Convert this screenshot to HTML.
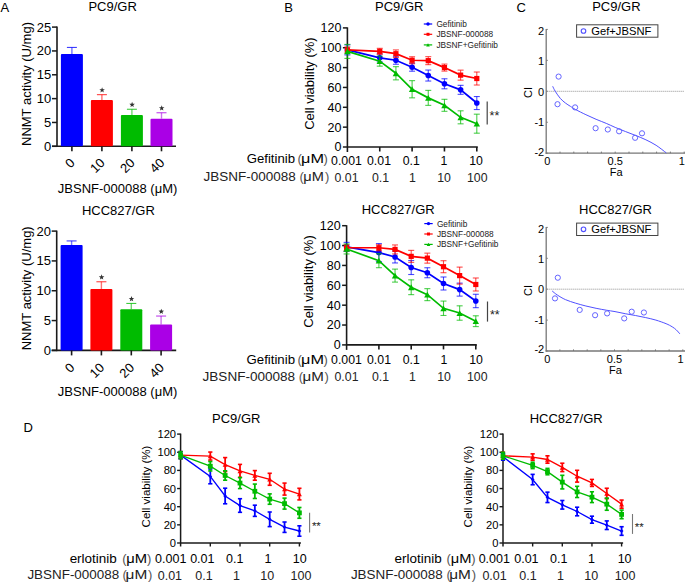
<!DOCTYPE html>
<html><head><meta charset="utf-8"><style>
html,body{margin:0;padding:0;background:#fff;width:685px;height:583px;overflow:hidden}
svg{display:block;font-family:"Liberation Sans", sans-serif}
</style></head><body>
<svg width="685" height="583" viewBox="0 0 685 583">
<text x="0.50" y="11.70" font-size="13" text-anchor="start" fill="#000" >A</text>
<text x="112.60" y="11.00" font-size="13" text-anchor="middle" fill="#000" >PC9/GR</text>
<line x1="57.00" y1="26.60" x2="57.00" y2="147.05" stroke="#1a1a1a" stroke-width="1.6" />
<line x1="52.00" y1="146.30" x2="57.00" y2="146.30" stroke="#1a1a1a" stroke-width="1.5" />
<text x="51.20" y="150.80" font-size="13" text-anchor="end" fill="#000" >0</text>
<line x1="52.00" y1="122.46" x2="57.00" y2="122.46" stroke="#1a1a1a" stroke-width="1.5" />
<text x="51.20" y="126.96" font-size="13" text-anchor="end" fill="#000" >5</text>
<line x1="52.00" y1="98.62" x2="57.00" y2="98.62" stroke="#1a1a1a" stroke-width="1.5" />
<text x="51.20" y="103.12" font-size="13" text-anchor="end" fill="#000" >10</text>
<line x1="52.00" y1="74.78" x2="57.00" y2="74.78" stroke="#1a1a1a" stroke-width="1.5" />
<text x="51.20" y="79.28" font-size="13" text-anchor="end" fill="#000" >15</text>
<line x1="52.00" y1="50.94" x2="57.00" y2="50.94" stroke="#1a1a1a" stroke-width="1.5" />
<text x="51.20" y="55.44" font-size="13" text-anchor="end" fill="#000" >20</text>
<line x1="52.00" y1="27.10" x2="57.00" y2="27.10" stroke="#1a1a1a" stroke-width="1.5" />
<text x="51.20" y="31.60" font-size="13" text-anchor="end" fill="#000" >25</text>
<line x1="52.00" y1="146.30" x2="176.00" y2="146.30" stroke="#1a1a1a" stroke-width="1.6" />
<rect x="60.90" y="54.04" width="22.00" height="92.26" fill="#0000ff" rx="1"/>
<line x1="71.90" y1="47.44" x2="71.90" y2="54.04" stroke="#0000ff" stroke-width="1.4" opacity="0.55"/>
<line x1="66.90" y1="47.44" x2="76.90" y2="47.44" stroke="#0000ff" stroke-width="1.1" opacity="0.75"/>
<line x1="71.90" y1="146.30" x2="71.90" y2="151.30" stroke="#1a1a1a" stroke-width="1.6" />
<text x="0" y="0" font-size="13" text-anchor="end" fill="#000" transform="translate(75.70,163.60) rotate(-45)">0</text>
<rect x="90.90" y="100.05" width="22.00" height="46.25" fill="#ff0000" rx="1"/>
<line x1="101.90" y1="94.65" x2="101.90" y2="100.05" stroke="#ff0000" stroke-width="1.4" opacity="0.55"/>
<line x1="96.90" y1="94.65" x2="106.90" y2="94.65" stroke="#ff0000" stroke-width="1.1" opacity="0.75"/>
<line x1="101.90" y1="146.30" x2="101.90" y2="151.30" stroke="#1a1a1a" stroke-width="1.6" />
<polygon points="102.10,87.25 102.82,89.17 104.86,89.25 103.26,90.53 103.80,92.50 102.10,91.37 100.40,92.50 100.94,90.53 99.34,89.25 101.38,89.17" fill="#333"/>
<text x="0" y="0" font-size="13" text-anchor="end" fill="#000" transform="translate(105.70,163.60) rotate(-45)">10</text>
<rect x="120.90" y="115.07" width="22.00" height="31.23" fill="#00bb00" rx="1"/>
<line x1="131.90" y1="109.27" x2="131.90" y2="115.07" stroke="#00bb00" stroke-width="1.4" opacity="0.55"/>
<line x1="126.90" y1="109.27" x2="136.90" y2="109.27" stroke="#00bb00" stroke-width="1.1" opacity="0.75"/>
<line x1="131.90" y1="146.30" x2="131.90" y2="151.30" stroke="#1a1a1a" stroke-width="1.6" />
<polygon points="132.10,101.87 132.82,103.78 134.86,103.87 133.26,105.15 133.80,107.12 132.10,105.99 130.40,107.12 130.94,105.15 129.34,103.87 131.38,103.78" fill="#333"/>
<text x="0" y="0" font-size="13" text-anchor="end" fill="#000" transform="translate(135.70,163.60) rotate(-45)">20</text>
<rect x="150.50" y="118.65" width="22.00" height="27.65" fill="#aa00e6" rx="1"/>
<line x1="161.50" y1="112.75" x2="161.50" y2="118.65" stroke="#aa00e6" stroke-width="1.4" opacity="0.55"/>
<line x1="156.50" y1="112.75" x2="166.50" y2="112.75" stroke="#aa00e6" stroke-width="1.1" opacity="0.75"/>
<line x1="161.50" y1="146.30" x2="161.50" y2="151.30" stroke="#1a1a1a" stroke-width="1.6" />
<polygon points="161.70,105.35 162.42,107.26 164.46,107.35 162.86,108.62 163.40,110.59 161.70,109.46 160.00,110.59 160.54,108.62 158.94,107.35 160.98,107.26" fill="#333"/>
<text x="0" y="0" font-size="13" text-anchor="end" fill="#000" transform="translate(165.30,163.60) rotate(-45)">40</text>
<text x="117.60" y="193.20" font-size="13" text-anchor="middle" fill="#000" >JBSNF-000088 (μM)</text>
<text x="0" y="0" font-size="13" text-anchor="middle" fill="#000" transform="translate(31.20,84.00) rotate(-90)">NNMT activity (U/mg)</text>
<text x="118.40" y="214.80" font-size="13" text-anchor="middle" fill="#000" >HCC827/GR</text>
<line x1="56.70" y1="230.60" x2="56.70" y2="351.15" stroke="#1a1a1a" stroke-width="1.6" />
<line x1="51.70" y1="350.40" x2="56.70" y2="350.40" stroke="#1a1a1a" stroke-width="1.5" />
<text x="50.90" y="354.90" font-size="13" text-anchor="end" fill="#000" >0</text>
<line x1="51.70" y1="320.57" x2="56.70" y2="320.57" stroke="#1a1a1a" stroke-width="1.5" />
<text x="50.90" y="325.07" font-size="13" text-anchor="end" fill="#000" >5</text>
<line x1="51.70" y1="290.75" x2="56.70" y2="290.75" stroke="#1a1a1a" stroke-width="1.5" />
<text x="50.90" y="295.25" font-size="13" text-anchor="end" fill="#000" >10</text>
<line x1="51.70" y1="260.92" x2="56.70" y2="260.92" stroke="#1a1a1a" stroke-width="1.5" />
<text x="50.90" y="265.42" font-size="13" text-anchor="end" fill="#000" >15</text>
<line x1="51.70" y1="231.10" x2="56.70" y2="231.10" stroke="#1a1a1a" stroke-width="1.5" />
<text x="50.90" y="235.60" font-size="13" text-anchor="end" fill="#000" >20</text>
<line x1="51.70" y1="350.40" x2="176.20" y2="350.40" stroke="#1a1a1a" stroke-width="1.6" />
<rect x="60.60" y="245.12" width="22.00" height="105.28" fill="#0000ff" rx="1"/>
<line x1="71.60" y1="240.92" x2="71.60" y2="245.12" stroke="#0000ff" stroke-width="1.4" opacity="0.55"/>
<line x1="66.60" y1="240.92" x2="76.60" y2="240.92" stroke="#0000ff" stroke-width="1.1" opacity="0.75"/>
<line x1="71.60" y1="350.40" x2="71.60" y2="355.40" stroke="#1a1a1a" stroke-width="1.6" />
<text x="0" y="0" font-size="13" text-anchor="end" fill="#000" transform="translate(75.40,368.40) rotate(-45)">0</text>
<rect x="90.40" y="288.96" width="22.00" height="61.44" fill="#ff0000" rx="1"/>
<line x1="101.40" y1="281.76" x2="101.40" y2="288.96" stroke="#ff0000" stroke-width="1.4" opacity="0.55"/>
<line x1="96.40" y1="281.76" x2="106.40" y2="281.76" stroke="#ff0000" stroke-width="1.1" opacity="0.75"/>
<line x1="101.40" y1="350.40" x2="101.40" y2="355.40" stroke="#1a1a1a" stroke-width="1.6" />
<polygon points="101.60,274.36 102.32,276.28 104.36,276.36 102.76,277.64 103.30,279.61 101.60,278.48 99.90,279.61 100.44,277.64 98.84,276.36 100.88,276.28" fill="#333"/>
<text x="0" y="0" font-size="13" text-anchor="end" fill="#000" transform="translate(105.20,368.40) rotate(-45)">10</text>
<rect x="120.30" y="309.24" width="22.00" height="41.16" fill="#00bb00" rx="1"/>
<line x1="131.30" y1="303.44" x2="131.30" y2="309.24" stroke="#00bb00" stroke-width="1.4" opacity="0.55"/>
<line x1="126.30" y1="303.44" x2="136.30" y2="303.44" stroke="#00bb00" stroke-width="1.1" opacity="0.75"/>
<line x1="131.30" y1="350.40" x2="131.30" y2="355.40" stroke="#1a1a1a" stroke-width="1.6" />
<polygon points="131.50,296.04 132.22,297.96 134.26,298.05 132.66,299.32 133.20,301.29 131.50,300.16 129.80,301.29 130.34,299.32 128.74,298.05 130.78,297.96" fill="#333"/>
<text x="0" y="0" font-size="13" text-anchor="end" fill="#000" transform="translate(135.10,368.40) rotate(-45)">20</text>
<rect x="150.10" y="324.45" width="22.00" height="25.95" fill="#aa00e6" rx="1"/>
<line x1="161.10" y1="316.05" x2="161.10" y2="324.45" stroke="#aa00e6" stroke-width="1.4" opacity="0.55"/>
<line x1="156.10" y1="316.05" x2="166.10" y2="316.05" stroke="#aa00e6" stroke-width="1.1" opacity="0.75"/>
<line x1="161.10" y1="350.40" x2="161.10" y2="355.40" stroke="#1a1a1a" stroke-width="1.6" />
<polygon points="161.30,308.65 162.02,310.57 164.06,310.66 162.46,311.93 163.00,313.90 161.30,312.77 159.60,313.90 160.14,311.93 158.54,310.66 160.58,310.57" fill="#333"/>
<text x="0" y="0" font-size="13" text-anchor="end" fill="#000" transform="translate(164.90,368.40) rotate(-45)">40</text>
<text x="117.60" y="396.00" font-size="13" text-anchor="middle" fill="#000" >JBSNF-000088 (μM)</text>
<text x="0" y="0" font-size="13" text-anchor="middle" fill="#000" transform="translate(30.80,288.30) rotate(-90)">NNMT activity (U/mg)</text>
<text x="399.20" y="11.20" font-size="13" text-anchor="middle" fill="#000" >PC9/GR</text>
<line x1="347.40" y1="27.40" x2="347.40" y2="152.00" stroke="#1a1a1a" stroke-width="1.6" />
<line x1="342.90" y1="147.00" x2="347.40" y2="147.00" stroke="#1a1a1a" stroke-width="1.5" />
<text x="341.40" y="151.40" font-size="12.5" text-anchor="end" fill="#000" >0</text>
<line x1="342.90" y1="127.15" x2="347.40" y2="127.15" stroke="#1a1a1a" stroke-width="1.5" />
<text x="341.40" y="131.55" font-size="12.5" text-anchor="end" fill="#000" >20</text>
<line x1="342.90" y1="107.30" x2="347.40" y2="107.30" stroke="#1a1a1a" stroke-width="1.5" />
<text x="341.40" y="111.70" font-size="12.5" text-anchor="end" fill="#000" >40</text>
<line x1="342.90" y1="87.45" x2="347.40" y2="87.45" stroke="#1a1a1a" stroke-width="1.5" />
<text x="341.40" y="91.85" font-size="12.5" text-anchor="end" fill="#000" >60</text>
<line x1="342.90" y1="67.60" x2="347.40" y2="67.60" stroke="#1a1a1a" stroke-width="1.5" />
<text x="341.40" y="72.00" font-size="12.5" text-anchor="end" fill="#000" >80</text>
<line x1="342.90" y1="47.75" x2="347.40" y2="47.75" stroke="#1a1a1a" stroke-width="1.5" />
<text x="341.40" y="52.15" font-size="12.5" text-anchor="end" fill="#000" >100</text>
<line x1="342.90" y1="27.90" x2="347.40" y2="27.90" stroke="#1a1a1a" stroke-width="1.5" />
<text x="341.40" y="32.30" font-size="12.5" text-anchor="end" fill="#000" >120</text>
<line x1="347.40" y1="147.00" x2="477.80" y2="147.00" stroke="#1a1a1a" stroke-width="1.6" />
<line x1="379.75" y1="147.00" x2="379.75" y2="151.50" stroke="#1a1a1a" stroke-width="1.6" />
<line x1="412.10" y1="147.00" x2="412.10" y2="151.50" stroke="#1a1a1a" stroke-width="1.6" />
<line x1="444.45" y1="147.00" x2="444.45" y2="151.50" stroke="#1a1a1a" stroke-width="1.6" />
<line x1="476.80" y1="147.00" x2="476.80" y2="151.50" stroke="#1a1a1a" stroke-width="1.6" />
<text x="0" y="0" font-size="13" text-anchor="middle" fill="#000" transform="translate(314.20,83.60) rotate(-90)">Cell viability (%)</text>
<line x1="347.40" y1="44.93" x2="347.40" y2="54.93" stroke="#0000ff" stroke-width="1.1" opacity="0.7"/>
<line x1="344.40" y1="44.93" x2="350.40" y2="44.93" stroke="#0000ff" stroke-width="1.1" opacity="0.7"/>
<line x1="344.40" y1="54.93" x2="350.40" y2="54.93" stroke="#0000ff" stroke-width="1.1" opacity="0.7"/>
<line x1="379.75" y1="53.87" x2="379.75" y2="61.87" stroke="#0000ff" stroke-width="1.1" opacity="0.7"/>
<line x1="376.75" y1="53.87" x2="382.75" y2="53.87" stroke="#0000ff" stroke-width="1.1" opacity="0.7"/>
<line x1="376.75" y1="61.87" x2="382.75" y2="61.87" stroke="#0000ff" stroke-width="1.1" opacity="0.7"/>
<line x1="395.91" y1="56.26" x2="395.91" y2="64.26" stroke="#0000ff" stroke-width="1.1" opacity="0.7"/>
<line x1="392.91" y1="56.26" x2="398.91" y2="56.26" stroke="#0000ff" stroke-width="1.1" opacity="0.7"/>
<line x1="392.91" y1="64.26" x2="398.91" y2="64.26" stroke="#0000ff" stroke-width="1.1" opacity="0.7"/>
<line x1="412.10" y1="63.20" x2="412.10" y2="71.20" stroke="#0000ff" stroke-width="1.1" opacity="0.7"/>
<line x1="409.10" y1="63.20" x2="415.10" y2="63.20" stroke="#0000ff" stroke-width="1.1" opacity="0.7"/>
<line x1="409.10" y1="71.20" x2="415.10" y2="71.20" stroke="#0000ff" stroke-width="1.1" opacity="0.7"/>
<line x1="428.26" y1="70.04" x2="428.26" y2="81.04" stroke="#0000ff" stroke-width="1.1" opacity="0.7"/>
<line x1="425.26" y1="70.04" x2="431.26" y2="70.04" stroke="#0000ff" stroke-width="1.1" opacity="0.7"/>
<line x1="425.26" y1="81.04" x2="431.26" y2="81.04" stroke="#0000ff" stroke-width="1.1" opacity="0.7"/>
<line x1="444.45" y1="78.78" x2="444.45" y2="88.78" stroke="#0000ff" stroke-width="1.1" opacity="0.7"/>
<line x1="441.45" y1="78.78" x2="447.45" y2="78.78" stroke="#0000ff" stroke-width="1.1" opacity="0.7"/>
<line x1="441.45" y1="88.78" x2="447.45" y2="88.78" stroke="#0000ff" stroke-width="1.1" opacity="0.7"/>
<line x1="460.61" y1="85.33" x2="460.61" y2="94.33" stroke="#0000ff" stroke-width="1.1" opacity="0.7"/>
<line x1="457.61" y1="85.33" x2="463.61" y2="85.33" stroke="#0000ff" stroke-width="1.1" opacity="0.7"/>
<line x1="457.61" y1="94.33" x2="463.61" y2="94.33" stroke="#0000ff" stroke-width="1.1" opacity="0.7"/>
<line x1="476.80" y1="96.53" x2="476.80" y2="109.53" stroke="#0000ff" stroke-width="1.1" opacity="0.7"/>
<line x1="473.80" y1="96.53" x2="479.80" y2="96.53" stroke="#0000ff" stroke-width="1.1" opacity="0.7"/>
<line x1="473.80" y1="109.53" x2="479.80" y2="109.53" stroke="#0000ff" stroke-width="1.1" opacity="0.7"/>
<polyline points="347.40,49.93 379.75,57.87 395.91,60.26 412.10,67.20 428.26,75.54 444.45,83.78 460.61,89.83 476.80,103.03" fill="none" stroke="#0000ff" stroke-width="1.7"/>
<circle cx="347.40" cy="49.93" r="2.8" fill="#0000ff"/>
<circle cx="379.75" cy="57.87" r="2.8" fill="#0000ff"/>
<circle cx="395.91" cy="60.26" r="2.8" fill="#0000ff"/>
<circle cx="412.10" cy="67.20" r="2.8" fill="#0000ff"/>
<circle cx="428.26" cy="75.54" r="2.8" fill="#0000ff"/>
<circle cx="444.45" cy="83.78" r="2.8" fill="#0000ff"/>
<circle cx="460.61" cy="89.83" r="2.8" fill="#0000ff"/>
<circle cx="476.80" cy="103.03" r="2.8" fill="#0000ff"/>
<line x1="347.40" y1="46.93" x2="347.40" y2="52.93" stroke="#ff0000" stroke-width="1.1" opacity="0.7"/>
<line x1="344.40" y1="46.93" x2="350.40" y2="46.93" stroke="#ff0000" stroke-width="1.1" opacity="0.7"/>
<line x1="344.40" y1="52.93" x2="350.40" y2="52.93" stroke="#ff0000" stroke-width="1.1" opacity="0.7"/>
<line x1="379.75" y1="48.32" x2="379.75" y2="54.32" stroke="#ff0000" stroke-width="1.1" opacity="0.7"/>
<line x1="376.75" y1="48.32" x2="382.75" y2="48.32" stroke="#ff0000" stroke-width="1.1" opacity="0.7"/>
<line x1="376.75" y1="54.32" x2="382.75" y2="54.32" stroke="#ff0000" stroke-width="1.1" opacity="0.7"/>
<line x1="395.91" y1="49.91" x2="395.91" y2="57.50" stroke="#ff0000" stroke-width="1.1" opacity="0.7"/>
<line x1="392.91" y1="49.91" x2="398.91" y2="49.91" stroke="#ff0000" stroke-width="1.1" opacity="0.7"/>
<line x1="392.91" y1="57.50" x2="398.91" y2="57.50" stroke="#ff0000" stroke-width="1.1" opacity="0.7"/>
<line x1="412.10" y1="56.76" x2="412.10" y2="63.76" stroke="#ff0000" stroke-width="1.1" opacity="0.7"/>
<line x1="409.10" y1="56.76" x2="415.10" y2="56.76" stroke="#ff0000" stroke-width="1.1" opacity="0.7"/>
<line x1="409.10" y1="63.76" x2="415.10" y2="63.76" stroke="#ff0000" stroke-width="1.1" opacity="0.7"/>
<line x1="428.26" y1="56.65" x2="428.26" y2="64.65" stroke="#ff0000" stroke-width="1.1" opacity="0.7"/>
<line x1="425.26" y1="56.65" x2="431.26" y2="56.65" stroke="#ff0000" stroke-width="1.1" opacity="0.7"/>
<line x1="425.26" y1="64.65" x2="431.26" y2="64.65" stroke="#ff0000" stroke-width="1.1" opacity="0.7"/>
<line x1="444.45" y1="64.10" x2="444.45" y2="71.10" stroke="#ff0000" stroke-width="1.1" opacity="0.7"/>
<line x1="441.45" y1="64.10" x2="447.45" y2="64.10" stroke="#ff0000" stroke-width="1.1" opacity="0.7"/>
<line x1="441.45" y1="71.10" x2="447.45" y2="71.10" stroke="#ff0000" stroke-width="1.1" opacity="0.7"/>
<line x1="460.61" y1="70.14" x2="460.61" y2="80.14" stroke="#ff0000" stroke-width="1.1" opacity="0.7"/>
<line x1="457.61" y1="70.14" x2="463.61" y2="70.14" stroke="#ff0000" stroke-width="1.1" opacity="0.7"/>
<line x1="457.61" y1="80.14" x2="463.61" y2="80.14" stroke="#ff0000" stroke-width="1.1" opacity="0.7"/>
<line x1="476.80" y1="72.02" x2="476.80" y2="85.02" stroke="#ff0000" stroke-width="1.1" opacity="0.7"/>
<line x1="473.80" y1="72.02" x2="479.80" y2="72.02" stroke="#ff0000" stroke-width="1.1" opacity="0.7"/>
<line x1="473.80" y1="85.02" x2="479.80" y2="85.02" stroke="#ff0000" stroke-width="1.1" opacity="0.7"/>
<polyline points="347.40,49.93 379.75,51.32 395.91,53.70 412.10,60.26 428.26,60.65 444.45,67.60 460.61,75.14 476.80,78.52" fill="none" stroke="#ff0000" stroke-width="1.7"/>
<rect x="344.80" y="47.33" width="5.2" height="5.2" fill="#ff0000"/>
<rect x="377.15" y="48.72" width="5.2" height="5.2" fill="#ff0000"/>
<rect x="393.31" y="51.10" width="5.2" height="5.2" fill="#ff0000"/>
<rect x="409.50" y="57.66" width="5.2" height="5.2" fill="#ff0000"/>
<rect x="425.66" y="58.05" width="5.2" height="5.2" fill="#ff0000"/>
<rect x="441.85" y="65.00" width="5.2" height="5.2" fill="#ff0000"/>
<rect x="458.01" y="72.54" width="5.2" height="5.2" fill="#ff0000"/>
<rect x="474.20" y="75.92" width="5.2" height="5.2" fill="#ff0000"/>
<line x1="347.40" y1="44.42" x2="347.40" y2="58.42" stroke="#00bb00" stroke-width="1.1" opacity="0.7"/>
<line x1="344.40" y1="44.42" x2="350.40" y2="44.42" stroke="#00bb00" stroke-width="1.1" opacity="0.7"/>
<line x1="344.40" y1="58.42" x2="350.40" y2="58.42" stroke="#00bb00" stroke-width="1.1" opacity="0.7"/>
<line x1="379.75" y1="56.15" x2="379.75" y2="66.15" stroke="#00bb00" stroke-width="1.1" opacity="0.7"/>
<line x1="376.75" y1="56.15" x2="382.75" y2="56.15" stroke="#00bb00" stroke-width="1.1" opacity="0.7"/>
<line x1="376.75" y1="66.15" x2="382.75" y2="66.15" stroke="#00bb00" stroke-width="1.1" opacity="0.7"/>
<line x1="395.91" y1="66.66" x2="395.91" y2="79.86" stroke="#00bb00" stroke-width="1.1" opacity="0.7"/>
<line x1="392.91" y1="66.66" x2="398.91" y2="66.66" stroke="#00bb00" stroke-width="1.1" opacity="0.7"/>
<line x1="392.91" y1="79.86" x2="398.91" y2="79.86" stroke="#00bb00" stroke-width="1.1" opacity="0.7"/>
<line x1="412.10" y1="80.64" x2="412.10" y2="97.84" stroke="#00bb00" stroke-width="1.1" opacity="0.7"/>
<line x1="409.10" y1="80.64" x2="415.10" y2="80.64" stroke="#00bb00" stroke-width="1.1" opacity="0.7"/>
<line x1="409.10" y1="97.84" x2="415.10" y2="97.84" stroke="#00bb00" stroke-width="1.1" opacity="0.7"/>
<line x1="428.26" y1="90.37" x2="428.26" y2="105.37" stroke="#00bb00" stroke-width="1.1" opacity="0.7"/>
<line x1="425.26" y1="90.37" x2="431.26" y2="90.37" stroke="#00bb00" stroke-width="1.1" opacity="0.7"/>
<line x1="425.26" y1="105.37" x2="431.26" y2="105.37" stroke="#00bb00" stroke-width="1.1" opacity="0.7"/>
<line x1="444.45" y1="99.31" x2="444.45" y2="111.31" stroke="#00bb00" stroke-width="1.1" opacity="0.7"/>
<line x1="441.45" y1="99.31" x2="447.45" y2="99.31" stroke="#00bb00" stroke-width="1.1" opacity="0.7"/>
<line x1="441.45" y1="111.31" x2="447.45" y2="111.31" stroke="#00bb00" stroke-width="1.1" opacity="0.7"/>
<line x1="460.61" y1="110.82" x2="460.61" y2="123.82" stroke="#00bb00" stroke-width="1.1" opacity="0.7"/>
<line x1="457.61" y1="110.82" x2="463.61" y2="110.82" stroke="#00bb00" stroke-width="1.1" opacity="0.7"/>
<line x1="457.61" y1="123.82" x2="463.61" y2="123.82" stroke="#00bb00" stroke-width="1.1" opacity="0.7"/>
<line x1="476.80" y1="114.18" x2="476.80" y2="133.18" stroke="#00bb00" stroke-width="1.1" opacity="0.7"/>
<line x1="473.80" y1="114.18" x2="479.80" y2="114.18" stroke="#00bb00" stroke-width="1.1" opacity="0.7"/>
<line x1="473.80" y1="133.18" x2="479.80" y2="133.18" stroke="#00bb00" stroke-width="1.1" opacity="0.7"/>
<polyline points="347.40,51.42 379.75,61.15 395.91,73.26 412.10,89.24 428.26,97.87 444.45,105.31 460.61,117.32 476.80,123.68" fill="none" stroke="#00bb00" stroke-width="1.7"/>
<polygon points="344.20,54.30 350.60,54.30 347.40,48.54" fill="#00bb00"/>
<polygon points="376.55,64.03 382.95,64.03 379.75,58.27" fill="#00bb00"/>
<polygon points="392.71,76.14 399.11,76.14 395.91,70.38" fill="#00bb00"/>
<polygon points="408.90,92.12 415.30,92.12 412.10,86.36" fill="#00bb00"/>
<polygon points="425.06,100.75 431.46,100.75 428.26,94.99" fill="#00bb00"/>
<polygon points="441.25,108.19 447.65,108.19 444.45,102.44" fill="#00bb00"/>
<polygon points="457.41,120.20 463.81,120.20 460.61,114.44" fill="#00bb00"/>
<polygon points="473.60,126.56 480.00,126.56 476.80,120.80" fill="#00bb00"/>
<line x1="487.20" y1="101.60" x2="487.20" y2="124.50" stroke="#444" stroke-width="1.2" />
<text x="489.60" y="120.25" font-size="12.5" text-anchor="start" fill="#222" >**</text>
<line x1="423.80" y1="24.00" x2="432.20" y2="24.00" stroke="#0000ff" stroke-width="1.2" />
<circle cx="428.00" cy="24.00" r="1.7" fill="#0000ff"/>
<text x="436.40" y="27.00" font-size="8.3" text-anchor="start" fill="#222" >Gefitinib</text>
<line x1="423.80" y1="34.30" x2="432.20" y2="34.30" stroke="#ff0000" stroke-width="1.2" />
<rect x="426.50" y="32.80" width="3.0" height="3.0" fill="#ff0000"/>
<text x="436.40" y="37.30" font-size="8.3" text-anchor="start" fill="#222" >JBSNF-000088</text>
<line x1="423.80" y1="44.90" x2="432.20" y2="44.90" stroke="#00bb00" stroke-width="1.2" />
<polygon points="426.20,46.52 429.80,46.52 428.00,43.28" fill="#00bb00"/>
<text x="436.40" y="47.90" font-size="8.3" text-anchor="start" fill="#222" >JBSNF+Gefitinib</text>
<text x="346.50" y="164.90" font-size="12.3" text-anchor="middle" fill="#000" >0.001</text>
<text x="346.50" y="181.90" font-size="12.3" text-anchor="middle" fill="#222" >0.01</text>
<text x="379.00" y="164.90" font-size="12.3" text-anchor="middle" fill="#000" >0.01</text>
<text x="380.60" y="181.90" font-size="12.3" text-anchor="middle" fill="#222" >0.1</text>
<text x="411.30" y="164.90" font-size="12.3" text-anchor="middle" fill="#000" >0.1</text>
<text x="412.30" y="181.90" font-size="12.3" text-anchor="middle" fill="#222" >1</text>
<text x="443.90" y="164.90" font-size="12.3" text-anchor="middle" fill="#000" >1</text>
<text x="444.00" y="181.90" font-size="12.3" text-anchor="middle" fill="#222" >10</text>
<text x="476.10" y="164.90" font-size="12.3" text-anchor="middle" fill="#000" >10</text>
<text x="477.30" y="181.90" font-size="12.3" text-anchor="middle" fill="#222" >100</text>
<text x="246.74" y="163.40" font-size="13.17" fill="#000">Gefitinib</text>
<text x="297.39" y="163.40" font-size="13.00" fill="#555">(</text>
<text x="301.10" y="163.40" font-size="13.00" fill="#000" textLength="22.93" lengthAdjust="spacingAndGlyphs">μM</text>
<text x="323.62" y="163.40" font-size="13.00" fill="#555">)</text>
<text x="203.49" y="180.80" font-size="13.49" fill="#222">JBSNF-000088</text>
<text x="299.39" y="180.80" font-size="13.00" fill="#555">(</text>
<text x="303.32" y="180.80" font-size="13.00" fill="#222" textLength="20.58" lengthAdjust="spacingAndGlyphs">μM</text>
<text x="325.12" y="180.80" font-size="13.00" fill="#555">)</text>
<text x="398.20" y="213.80" font-size="13" text-anchor="middle" fill="#000" >HCC827/GR</text>
<line x1="346.60" y1="225.20" x2="346.60" y2="349.90" stroke="#1a1a1a" stroke-width="1.6" />
<line x1="342.10" y1="344.90" x2="346.60" y2="344.90" stroke="#1a1a1a" stroke-width="1.5" />
<text x="340.60" y="349.30" font-size="12.5" text-anchor="end" fill="#000" >0</text>
<line x1="342.10" y1="325.03" x2="346.60" y2="325.03" stroke="#1a1a1a" stroke-width="1.5" />
<text x="340.60" y="329.43" font-size="12.5" text-anchor="end" fill="#000" >20</text>
<line x1="342.10" y1="305.17" x2="346.60" y2="305.17" stroke="#1a1a1a" stroke-width="1.5" />
<text x="340.60" y="309.57" font-size="12.5" text-anchor="end" fill="#000" >40</text>
<line x1="342.10" y1="285.30" x2="346.60" y2="285.30" stroke="#1a1a1a" stroke-width="1.5" />
<text x="340.60" y="289.70" font-size="12.5" text-anchor="end" fill="#000" >60</text>
<line x1="342.10" y1="265.44" x2="346.60" y2="265.44" stroke="#1a1a1a" stroke-width="1.5" />
<text x="340.60" y="269.84" font-size="12.5" text-anchor="end" fill="#000" >80</text>
<line x1="342.10" y1="245.57" x2="346.60" y2="245.57" stroke="#1a1a1a" stroke-width="1.5" />
<text x="340.60" y="249.97" font-size="12.5" text-anchor="end" fill="#000" >100</text>
<line x1="342.10" y1="225.70" x2="346.60" y2="225.70" stroke="#1a1a1a" stroke-width="1.5" />
<text x="340.60" y="230.10" font-size="12.5" text-anchor="end" fill="#000" >120</text>
<line x1="346.60" y1="344.90" x2="476.80" y2="344.90" stroke="#1a1a1a" stroke-width="1.6" />
<line x1="378.90" y1="344.90" x2="378.90" y2="349.40" stroke="#1a1a1a" stroke-width="1.6" />
<line x1="411.20" y1="344.90" x2="411.20" y2="349.40" stroke="#1a1a1a" stroke-width="1.6" />
<line x1="443.50" y1="344.90" x2="443.50" y2="349.40" stroke="#1a1a1a" stroke-width="1.6" />
<line x1="475.80" y1="344.90" x2="475.80" y2="349.40" stroke="#1a1a1a" stroke-width="1.6" />
<text x="0" y="0" font-size="13" text-anchor="middle" fill="#000" transform="translate(313.20,281.50) rotate(-90)">Cell viability (%)</text>
<line x1="346.60" y1="242.38" x2="346.60" y2="251.38" stroke="#0000ff" stroke-width="1.1" opacity="0.7"/>
<line x1="343.60" y1="242.38" x2="349.60" y2="242.38" stroke="#0000ff" stroke-width="1.1" opacity="0.7"/>
<line x1="343.60" y1="251.38" x2="349.60" y2="251.38" stroke="#0000ff" stroke-width="1.1" opacity="0.7"/>
<line x1="378.90" y1="243.60" x2="378.90" y2="261.60" stroke="#0000ff" stroke-width="1.1" opacity="0.7"/>
<line x1="375.90" y1="243.60" x2="381.90" y2="243.60" stroke="#0000ff" stroke-width="1.1" opacity="0.7"/>
<line x1="375.90" y1="261.60" x2="381.90" y2="261.60" stroke="#0000ff" stroke-width="1.1" opacity="0.7"/>
<line x1="395.04" y1="250.95" x2="395.04" y2="262.95" stroke="#0000ff" stroke-width="1.1" opacity="0.7"/>
<line x1="392.04" y1="250.95" x2="398.04" y2="250.95" stroke="#0000ff" stroke-width="1.1" opacity="0.7"/>
<line x1="392.04" y1="262.95" x2="398.04" y2="262.95" stroke="#0000ff" stroke-width="1.1" opacity="0.7"/>
<line x1="411.20" y1="260.51" x2="411.20" y2="274.51" stroke="#0000ff" stroke-width="1.1" opacity="0.7"/>
<line x1="408.20" y1="260.51" x2="414.20" y2="260.51" stroke="#0000ff" stroke-width="1.1" opacity="0.7"/>
<line x1="408.20" y1="274.51" x2="414.20" y2="274.51" stroke="#0000ff" stroke-width="1.1" opacity="0.7"/>
<line x1="427.34" y1="267.74" x2="427.34" y2="277.74" stroke="#0000ff" stroke-width="1.1" opacity="0.7"/>
<line x1="424.34" y1="267.74" x2="430.34" y2="267.74" stroke="#0000ff" stroke-width="1.1" opacity="0.7"/>
<line x1="424.34" y1="277.74" x2="430.34" y2="277.74" stroke="#0000ff" stroke-width="1.1" opacity="0.7"/>
<line x1="443.50" y1="277.00" x2="443.50" y2="290.00" stroke="#0000ff" stroke-width="1.1" opacity="0.7"/>
<line x1="440.50" y1="277.00" x2="446.50" y2="277.00" stroke="#0000ff" stroke-width="1.1" opacity="0.7"/>
<line x1="440.50" y1="290.00" x2="446.50" y2="290.00" stroke="#0000ff" stroke-width="1.1" opacity="0.7"/>
<line x1="459.64" y1="283.12" x2="459.64" y2="296.12" stroke="#0000ff" stroke-width="1.1" opacity="0.7"/>
<line x1="456.64" y1="283.12" x2="462.64" y2="283.12" stroke="#0000ff" stroke-width="1.1" opacity="0.7"/>
<line x1="456.64" y1="296.12" x2="462.64" y2="296.12" stroke="#0000ff" stroke-width="1.1" opacity="0.7"/>
<line x1="475.80" y1="294.27" x2="475.80" y2="307.67" stroke="#0000ff" stroke-width="1.1" opacity="0.7"/>
<line x1="472.80" y1="294.27" x2="478.80" y2="294.27" stroke="#0000ff" stroke-width="1.1" opacity="0.7"/>
<line x1="472.80" y1="307.67" x2="478.80" y2="307.67" stroke="#0000ff" stroke-width="1.1" opacity="0.7"/>
<polyline points="346.60,246.88 378.90,252.60 395.04,256.95 411.20,267.51 427.34,272.74 443.50,283.50 459.64,289.62 475.80,300.97" fill="none" stroke="#0000ff" stroke-width="1.7"/>
<circle cx="346.60" cy="246.88" r="2.8" fill="#0000ff"/>
<circle cx="378.90" cy="252.60" r="2.8" fill="#0000ff"/>
<circle cx="395.04" cy="256.95" r="2.8" fill="#0000ff"/>
<circle cx="411.20" cy="267.51" r="2.8" fill="#0000ff"/>
<circle cx="427.34" cy="272.74" r="2.8" fill="#0000ff"/>
<circle cx="443.50" cy="283.50" r="2.8" fill="#0000ff"/>
<circle cx="459.64" cy="289.62" r="2.8" fill="#0000ff"/>
<circle cx="475.80" cy="300.97" r="2.8" fill="#0000ff"/>
<line x1="346.60" y1="244.77" x2="346.60" y2="250.77" stroke="#ff0000" stroke-width="1.1" opacity="0.7"/>
<line x1="343.60" y1="244.77" x2="349.60" y2="244.77" stroke="#ff0000" stroke-width="1.1" opacity="0.7"/>
<line x1="343.60" y1="250.77" x2="349.60" y2="250.77" stroke="#ff0000" stroke-width="1.1" opacity="0.7"/>
<line x1="378.90" y1="244.77" x2="378.90" y2="250.77" stroke="#ff0000" stroke-width="1.1" opacity="0.7"/>
<line x1="375.90" y1="244.77" x2="381.90" y2="244.77" stroke="#ff0000" stroke-width="1.1" opacity="0.7"/>
<line x1="375.90" y1="250.77" x2="381.90" y2="250.77" stroke="#ff0000" stroke-width="1.1" opacity="0.7"/>
<line x1="395.04" y1="244.94" x2="395.04" y2="253.94" stroke="#ff0000" stroke-width="1.1" opacity="0.7"/>
<line x1="392.04" y1="244.94" x2="398.04" y2="244.94" stroke="#ff0000" stroke-width="1.1" opacity="0.7"/>
<line x1="392.04" y1="253.94" x2="398.04" y2="253.94" stroke="#ff0000" stroke-width="1.1" opacity="0.7"/>
<line x1="411.20" y1="250.36" x2="411.20" y2="262.36" stroke="#ff0000" stroke-width="1.1" opacity="0.7"/>
<line x1="408.20" y1="250.36" x2="414.20" y2="250.36" stroke="#ff0000" stroke-width="1.1" opacity="0.7"/>
<line x1="408.20" y1="262.36" x2="414.20" y2="262.36" stroke="#ff0000" stroke-width="1.1" opacity="0.7"/>
<line x1="427.34" y1="253.14" x2="427.34" y2="263.14" stroke="#ff0000" stroke-width="1.1" opacity="0.7"/>
<line x1="424.34" y1="253.14" x2="430.34" y2="253.14" stroke="#ff0000" stroke-width="1.1" opacity="0.7"/>
<line x1="424.34" y1="263.14" x2="430.34" y2="263.14" stroke="#ff0000" stroke-width="1.1" opacity="0.7"/>
<line x1="443.50" y1="260.72" x2="443.50" y2="272.72" stroke="#ff0000" stroke-width="1.1" opacity="0.7"/>
<line x1="440.50" y1="260.72" x2="446.50" y2="260.72" stroke="#ff0000" stroke-width="1.1" opacity="0.7"/>
<line x1="440.50" y1="272.72" x2="446.50" y2="272.72" stroke="#ff0000" stroke-width="1.1" opacity="0.7"/>
<line x1="459.64" y1="267.11" x2="459.64" y2="284.11" stroke="#ff0000" stroke-width="1.1" opacity="0.7"/>
<line x1="456.64" y1="267.11" x2="462.64" y2="267.11" stroke="#ff0000" stroke-width="1.1" opacity="0.7"/>
<line x1="456.64" y1="284.11" x2="462.64" y2="284.11" stroke="#ff0000" stroke-width="1.1" opacity="0.7"/>
<line x1="475.80" y1="277.99" x2="475.80" y2="290.99" stroke="#ff0000" stroke-width="1.1" opacity="0.7"/>
<line x1="472.80" y1="277.99" x2="478.80" y2="277.99" stroke="#ff0000" stroke-width="1.1" opacity="0.7"/>
<line x1="472.80" y1="290.99" x2="478.80" y2="290.99" stroke="#ff0000" stroke-width="1.1" opacity="0.7"/>
<polyline points="346.60,247.77 378.90,247.77 395.04,249.44 411.20,256.36 427.34,258.14 443.50,266.72 459.64,275.61 475.80,284.49" fill="none" stroke="#ff0000" stroke-width="1.7"/>
<rect x="344.00" y="245.17" width="5.2" height="5.2" fill="#ff0000"/>
<rect x="376.30" y="245.17" width="5.2" height="5.2" fill="#ff0000"/>
<rect x="392.44" y="246.84" width="5.2" height="5.2" fill="#ff0000"/>
<rect x="408.60" y="253.76" width="5.2" height="5.2" fill="#ff0000"/>
<rect x="424.74" y="255.54" width="5.2" height="5.2" fill="#ff0000"/>
<rect x="440.90" y="264.12" width="5.2" height="5.2" fill="#ff0000"/>
<rect x="457.04" y="273.01" width="5.2" height="5.2" fill="#ff0000"/>
<rect x="473.20" y="281.89" width="5.2" height="5.2" fill="#ff0000"/>
<line x1="346.60" y1="243.96" x2="346.60" y2="253.96" stroke="#00bb00" stroke-width="1.1" opacity="0.7"/>
<line x1="343.60" y1="243.96" x2="349.60" y2="243.96" stroke="#00bb00" stroke-width="1.1" opacity="0.7"/>
<line x1="343.60" y1="253.96" x2="349.60" y2="253.96" stroke="#00bb00" stroke-width="1.1" opacity="0.7"/>
<line x1="378.90" y1="253.70" x2="378.90" y2="267.70" stroke="#00bb00" stroke-width="1.1" opacity="0.7"/>
<line x1="375.90" y1="253.70" x2="381.90" y2="253.70" stroke="#00bb00" stroke-width="1.1" opacity="0.7"/>
<line x1="375.90" y1="267.70" x2="381.90" y2="267.70" stroke="#00bb00" stroke-width="1.1" opacity="0.7"/>
<line x1="395.04" y1="269.11" x2="395.04" y2="282.11" stroke="#00bb00" stroke-width="1.1" opacity="0.7"/>
<line x1="392.04" y1="269.11" x2="398.04" y2="269.11" stroke="#00bb00" stroke-width="1.1" opacity="0.7"/>
<line x1="392.04" y1="282.11" x2="398.04" y2="282.11" stroke="#00bb00" stroke-width="1.1" opacity="0.7"/>
<line x1="411.20" y1="279.85" x2="411.20" y2="294.65" stroke="#00bb00" stroke-width="1.1" opacity="0.7"/>
<line x1="408.20" y1="279.85" x2="414.20" y2="279.85" stroke="#00bb00" stroke-width="1.1" opacity="0.7"/>
<line x1="408.20" y1="294.65" x2="414.20" y2="294.65" stroke="#00bb00" stroke-width="1.1" opacity="0.7"/>
<line x1="427.34" y1="288.65" x2="427.34" y2="300.65" stroke="#00bb00" stroke-width="1.1" opacity="0.7"/>
<line x1="424.34" y1="288.65" x2="430.34" y2="288.65" stroke="#00bb00" stroke-width="1.1" opacity="0.7"/>
<line x1="424.34" y1="300.65" x2="430.34" y2="300.65" stroke="#00bb00" stroke-width="1.1" opacity="0.7"/>
<line x1="443.50" y1="301.08" x2="443.50" y2="315.48" stroke="#00bb00" stroke-width="1.1" opacity="0.7"/>
<line x1="440.50" y1="301.08" x2="446.50" y2="301.08" stroke="#00bb00" stroke-width="1.1" opacity="0.7"/>
<line x1="440.50" y1="315.48" x2="446.50" y2="315.48" stroke="#00bb00" stroke-width="1.1" opacity="0.7"/>
<line x1="459.64" y1="305.82" x2="459.64" y2="320.22" stroke="#00bb00" stroke-width="1.1" opacity="0.7"/>
<line x1="456.64" y1="305.82" x2="462.64" y2="305.82" stroke="#00bb00" stroke-width="1.1" opacity="0.7"/>
<line x1="456.64" y1="320.22" x2="462.64" y2="320.22" stroke="#00bb00" stroke-width="1.1" opacity="0.7"/>
<line x1="475.80" y1="315.80" x2="475.80" y2="326.60" stroke="#00bb00" stroke-width="1.1" opacity="0.7"/>
<line x1="472.80" y1="315.80" x2="478.80" y2="315.80" stroke="#00bb00" stroke-width="1.1" opacity="0.7"/>
<line x1="472.80" y1="326.60" x2="478.80" y2="326.60" stroke="#00bb00" stroke-width="1.1" opacity="0.7"/>
<polyline points="346.60,248.96 378.90,260.70 395.04,275.61 411.20,287.25 427.34,294.65 443.50,308.28 459.64,313.02 475.80,321.20" fill="none" stroke="#00bb00" stroke-width="1.7"/>
<polygon points="343.40,251.84 349.80,251.84 346.60,246.08" fill="#00bb00"/>
<polygon points="375.70,263.58 382.10,263.58 378.90,257.82" fill="#00bb00"/>
<polygon points="391.84,278.49 398.24,278.49 395.04,272.73" fill="#00bb00"/>
<polygon points="408.00,290.13 414.40,290.13 411.20,284.37" fill="#00bb00"/>
<polygon points="424.14,297.53 430.54,297.53 427.34,291.77" fill="#00bb00"/>
<polygon points="440.30,311.16 446.70,311.16 443.50,305.40" fill="#00bb00"/>
<polygon points="456.44,315.90 462.84,315.90 459.64,310.14" fill="#00bb00"/>
<polygon points="472.60,324.08 479.00,324.08 475.80,318.32" fill="#00bb00"/>
<line x1="487.50" y1="301.50" x2="487.50" y2="321.60" stroke="#444" stroke-width="1.2" />
<text x="489.90" y="318.75" font-size="12.5" text-anchor="start" fill="#222" >**</text>
<line x1="424.30" y1="223.60" x2="432.70" y2="223.60" stroke="#0000ff" stroke-width="1.2" />
<circle cx="428.50" cy="223.60" r="1.7" fill="#0000ff"/>
<text x="436.90" y="226.60" font-size="8.3" text-anchor="start" fill="#222" >Gefitinib</text>
<line x1="424.30" y1="234.00" x2="432.70" y2="234.00" stroke="#ff0000" stroke-width="1.2" />
<rect x="427.00" y="232.50" width="3.0" height="3.0" fill="#ff0000"/>
<text x="436.90" y="237.00" font-size="8.3" text-anchor="start" fill="#222" >JBSNF-000088</text>
<line x1="424.30" y1="244.40" x2="432.70" y2="244.40" stroke="#00bb00" stroke-width="1.2" />
<polygon points="426.70,246.02 430.30,246.02 428.50,242.78" fill="#00bb00"/>
<text x="436.90" y="247.40" font-size="8.3" text-anchor="start" fill="#222" >JBSNF+Gefitinib</text>
<text x="346.50" y="363.60" font-size="12.3" text-anchor="middle" fill="#000" >0.001</text>
<text x="346.50" y="380.50" font-size="12.3" text-anchor="middle" fill="#222" >0.01</text>
<text x="379.00" y="363.60" font-size="12.3" text-anchor="middle" fill="#000" >0.01</text>
<text x="380.60" y="380.50" font-size="12.3" text-anchor="middle" fill="#222" >0.1</text>
<text x="411.30" y="363.60" font-size="12.3" text-anchor="middle" fill="#000" >0.1</text>
<text x="412.30" y="380.50" font-size="12.3" text-anchor="middle" fill="#222" >1</text>
<text x="443.90" y="363.60" font-size="12.3" text-anchor="middle" fill="#000" >1</text>
<text x="444.00" y="380.50" font-size="12.3" text-anchor="middle" fill="#222" >10</text>
<text x="476.10" y="363.60" font-size="12.3" text-anchor="middle" fill="#000" >10</text>
<text x="477.30" y="380.50" font-size="12.3" text-anchor="middle" fill="#222" >100</text>
<text x="246.53" y="364.00" font-size="13.23" fill="#000">Gefitinib</text>
<text x="297.39" y="364.00" font-size="13.00" fill="#555">(</text>
<text x="301.10" y="364.00" font-size="13.00" fill="#000" textLength="22.93" lengthAdjust="spacingAndGlyphs">μM</text>
<text x="323.62" y="364.00" font-size="13.00" fill="#555">)</text>
<text x="202.59" y="380.70" font-size="13.54" fill="#222">JBSNF-000088</text>
<text x="298.69" y="380.70" font-size="13.00" fill="#555">(</text>
<text x="302.58" y="380.70" font-size="13.00" fill="#222" textLength="21.37" lengthAdjust="spacingAndGlyphs">μM</text>
<text x="324.42" y="380.70" font-size="13.00" fill="#555">)</text>
<text x="284.20" y="11.70" font-size="13" text-anchor="start" fill="#000" >B</text>
<text x="516.50" y="11.70" font-size="13" text-anchor="start" fill="#000" >C</text>
<text x="616.40" y="11.20" font-size="13" text-anchor="middle" fill="#000" >PC9/GR</text>
<line x1="546.20" y1="28.90" x2="546.20" y2="153.80" stroke="#777" stroke-width="1.3" />
<line x1="545.60" y1="153.20" x2="685.00" y2="153.20" stroke="#777" stroke-width="1.3" />
<line x1="546.20" y1="29.40" x2="547.80" y2="29.40" stroke="#777" stroke-width="1" />
<text x="544.20" y="35.40" font-size="11" text-anchor="end" fill="#000" >2</text>
<line x1="546.20" y1="60.35" x2="547.80" y2="60.35" stroke="#777" stroke-width="1" />
<text x="544.20" y="64.55" font-size="11" text-anchor="end" fill="#000" >1</text>
<line x1="546.20" y1="91.30" x2="547.80" y2="91.30" stroke="#777" stroke-width="1" />
<text x="544.20" y="95.50" font-size="11" text-anchor="end" fill="#000" >0</text>
<line x1="546.20" y1="122.25" x2="547.80" y2="122.25" stroke="#777" stroke-width="1" />
<text x="544.20" y="126.45" font-size="11" text-anchor="end" fill="#000" >-1</text>
<line x1="546.20" y1="153.20" x2="547.80" y2="153.20" stroke="#777" stroke-width="1" />
<text x="544.20" y="155.60" font-size="11" text-anchor="end" fill="#000" >-2</text>
<line x1="560.00" y1="153.20" x2="560.00" y2="151.60" stroke="#777" stroke-width="1" />
<line x1="573.80" y1="153.20" x2="573.80" y2="151.60" stroke="#777" stroke-width="1" />
<line x1="587.60" y1="153.20" x2="587.60" y2="151.60" stroke="#777" stroke-width="1" />
<line x1="601.40" y1="153.20" x2="601.40" y2="151.60" stroke="#777" stroke-width="1" />
<line x1="615.20" y1="153.20" x2="615.20" y2="151.60" stroke="#777" stroke-width="1" />
<line x1="629.00" y1="153.20" x2="629.00" y2="151.60" stroke="#777" stroke-width="1" />
<line x1="642.80" y1="153.20" x2="642.80" y2="151.60" stroke="#777" stroke-width="1" />
<line x1="656.60" y1="153.20" x2="656.60" y2="151.60" stroke="#777" stroke-width="1" />
<line x1="670.40" y1="153.20" x2="670.40" y2="151.60" stroke="#777" stroke-width="1" />
<line x1="684.20" y1="153.20" x2="684.20" y2="151.60" stroke="#777" stroke-width="1" />
<text x="547.20" y="164.80" font-size="11" text-anchor="middle" fill="#000" >0</text>
<text x="615.20" y="164.80" font-size="11" text-anchor="middle" fill="#000" >0.5</text>
<text x="681.90" y="164.80" font-size="11" text-anchor="middle" fill="#000" >1</text>
<text x="616.20" y="175.70" font-size="11" text-anchor="middle" fill="#000" >Fa</text>
<text x="0" y="0" font-size="11" text-anchor="middle" fill="#000" transform="translate(532.30,92.50) rotate(-90)">CI</text>
<line x1="547.20" y1="91.30" x2="684.00" y2="91.30" stroke="#999" stroke-width="0.9" stroke-dasharray="1.2,0.8"/>
<path d="M552.70,86.30 C553.12,87.12 553.93,89.18 555.20,91.20 C556.47,93.22 558.60,96.43 560.30,98.40 C562.00,100.37 563.70,101.67 565.40,103.00 C567.10,104.33 568.78,105.30 570.50,106.40 C572.22,107.50 573.13,108.22 575.70,109.60 C578.27,110.98 582.50,113.08 585.90,114.70 C589.30,116.32 592.70,117.85 596.10,119.30 C599.50,120.75 603.12,122.05 606.30,123.40 C609.48,124.75 612.02,126.05 615.20,127.40 C618.38,128.75 621.98,130.15 625.40,131.50 C628.82,132.85 632.28,134.12 635.70,135.50 C639.12,136.88 642.50,138.17 645.90,139.80 C649.30,141.43 652.70,143.12 656.10,145.30 C659.50,147.48 664.60,151.63 666.30,152.90" fill="none" stroke="#5050ff" stroke-width="1.0"/>
<circle cx="558.60" cy="76.60" r="2.6" fill="none" stroke="#6464ff" stroke-width="1.0"/>
<circle cx="557.50" cy="104.20" r="2.6" fill="none" stroke="#6464ff" stroke-width="1.0"/>
<circle cx="575.10" cy="107.40" r="2.6" fill="none" stroke="#6464ff" stroke-width="1.0"/>
<circle cx="595.60" cy="128.20" r="2.6" fill="none" stroke="#6464ff" stroke-width="1.0"/>
<circle cx="607.80" cy="129.50" r="2.6" fill="none" stroke="#6464ff" stroke-width="1.0"/>
<circle cx="619.10" cy="131.30" r="2.6" fill="none" stroke="#6464ff" stroke-width="1.0"/>
<circle cx="635.10" cy="137.80" r="2.6" fill="none" stroke="#6464ff" stroke-width="1.0"/>
<circle cx="642.00" cy="133.30" r="2.6" fill="none" stroke="#6464ff" stroke-width="1.0"/>
<rect x="576.6" y="24.80" width="81.3" height="12.4" fill="#fff" stroke="#444" stroke-width="1"/>
<circle cx="583.50" cy="31.00" r="2.3" fill="none" stroke="#5050ff" stroke-width="1.1"/>
<text x="591.30" y="35.10" font-size="11.2" text-anchor="start" fill="#000" >Gef+JBSNF</text>
<text x="615.50" y="213.80" font-size="13" text-anchor="middle" fill="#000" >HCC827/GR</text>
<line x1="546.20" y1="226.90" x2="546.20" y2="351.60" stroke="#777" stroke-width="1.3" />
<line x1="545.60" y1="351.00" x2="685.00" y2="351.00" stroke="#777" stroke-width="1.3" />
<line x1="546.20" y1="227.40" x2="547.80" y2="227.40" stroke="#777" stroke-width="1" />
<text x="544.20" y="233.40" font-size="11" text-anchor="end" fill="#000" >2</text>
<line x1="546.20" y1="258.30" x2="547.80" y2="258.30" stroke="#777" stroke-width="1" />
<text x="544.20" y="262.50" font-size="11" text-anchor="end" fill="#000" >1</text>
<line x1="546.20" y1="289.20" x2="547.80" y2="289.20" stroke="#777" stroke-width="1" />
<text x="544.20" y="293.40" font-size="11" text-anchor="end" fill="#000" >0</text>
<line x1="546.20" y1="320.10" x2="547.80" y2="320.10" stroke="#777" stroke-width="1" />
<text x="544.20" y="324.30" font-size="11" text-anchor="end" fill="#000" >-1</text>
<line x1="546.20" y1="351.00" x2="547.80" y2="351.00" stroke="#777" stroke-width="1" />
<text x="544.20" y="353.40" font-size="11" text-anchor="end" fill="#000" >-2</text>
<line x1="559.86" y1="351.00" x2="559.86" y2="349.40" stroke="#777" stroke-width="1" />
<line x1="573.52" y1="351.00" x2="573.52" y2="349.40" stroke="#777" stroke-width="1" />
<line x1="587.18" y1="351.00" x2="587.18" y2="349.40" stroke="#777" stroke-width="1" />
<line x1="600.84" y1="351.00" x2="600.84" y2="349.40" stroke="#777" stroke-width="1" />
<line x1="614.50" y1="351.00" x2="614.50" y2="349.40" stroke="#777" stroke-width="1" />
<line x1="628.16" y1="351.00" x2="628.16" y2="349.40" stroke="#777" stroke-width="1" />
<line x1="641.82" y1="351.00" x2="641.82" y2="349.40" stroke="#777" stroke-width="1" />
<line x1="655.48" y1="351.00" x2="655.48" y2="349.40" stroke="#777" stroke-width="1" />
<line x1="669.14" y1="351.00" x2="669.14" y2="349.40" stroke="#777" stroke-width="1" />
<line x1="682.80" y1="351.00" x2="682.80" y2="349.40" stroke="#777" stroke-width="1" />
<text x="547.20" y="362.60" font-size="11" text-anchor="middle" fill="#000" >0</text>
<text x="614.50" y="362.60" font-size="11" text-anchor="middle" fill="#000" >0.5</text>
<text x="680.50" y="362.60" font-size="11" text-anchor="middle" fill="#000" >1</text>
<text x="615.50" y="373.50" font-size="11" text-anchor="middle" fill="#000" >Fa</text>
<text x="0" y="0" font-size="11" text-anchor="middle" fill="#000" transform="translate(532.30,290.40) rotate(-90)">CI</text>
<line x1="547.20" y1="289.20" x2="684.00" y2="289.20" stroke="#999" stroke-width="0.9" stroke-dasharray="1.2,0.8"/>
<path d="M552.20,291.00 C553.05,291.67 555.10,293.57 557.30,295.00 C559.50,296.43 562.33,298.23 565.40,299.60 C568.47,300.97 572.28,302.13 575.70,303.20 C579.12,304.27 582.50,305.15 585.90,306.00 C589.30,306.85 592.70,307.60 596.10,308.30 C599.50,309.00 603.15,309.65 606.30,310.20 C609.45,310.75 611.85,311.02 615.00,311.60 C618.15,312.18 621.80,313.05 625.20,313.70 C628.60,314.35 631.98,314.85 635.40,315.50 C638.82,316.15 642.28,316.83 645.70,317.60 C649.12,318.37 652.50,319.08 655.90,320.10 C659.30,321.12 663.38,322.58 666.10,323.70 C668.82,324.82 670.50,325.77 672.20,326.80 C673.90,327.83 675.02,328.72 676.30,329.90 C677.58,331.08 679.30,333.23 679.90,333.90" fill="none" stroke="#5050ff" stroke-width="1.0"/>
<circle cx="557.80" cy="277.70" r="2.6" fill="none" stroke="#6464ff" stroke-width="1.0"/>
<circle cx="555.00" cy="298.40" r="2.6" fill="none" stroke="#6464ff" stroke-width="1.0"/>
<circle cx="579.70" cy="309.90" r="2.6" fill="none" stroke="#6464ff" stroke-width="1.0"/>
<circle cx="595.10" cy="315.20" r="2.6" fill="none" stroke="#6464ff" stroke-width="1.0"/>
<circle cx="607.10" cy="313.40" r="2.6" fill="none" stroke="#6464ff" stroke-width="1.0"/>
<circle cx="624.20" cy="318.40" r="2.6" fill="none" stroke="#6464ff" stroke-width="1.0"/>
<circle cx="631.70" cy="311.70" r="2.6" fill="none" stroke="#6464ff" stroke-width="1.0"/>
<circle cx="643.90" cy="312.50" r="2.6" fill="none" stroke="#6464ff" stroke-width="1.0"/>
<rect x="576.6" y="223.10" width="81.3" height="12.4" fill="#fff" stroke="#444" stroke-width="1"/>
<circle cx="583.50" cy="229.30" r="2.3" fill="none" stroke="#5050ff" stroke-width="1.1"/>
<text x="591.30" y="233.40" font-size="11.2" text-anchor="start" fill="#000" >Gef+JBSNF</text>
<text x="23.50" y="432.00" font-size="13" text-anchor="start" fill="#000" >D</text>
<text x="236.20" y="422.80" font-size="13" text-anchor="middle" fill="#000" >PC9/GR</text>
<line x1="180.60" y1="433.60" x2="180.60" y2="546.50" stroke="#1a1a1a" stroke-width="1.5" />
<line x1="177.10" y1="543.00" x2="180.60" y2="543.00" stroke="#1a1a1a" stroke-width="1.4" />
<text x="176.10" y="547.00" font-size="11.2" text-anchor="end" fill="#000" >0</text>
<line x1="177.10" y1="524.85" x2="180.60" y2="524.85" stroke="#1a1a1a" stroke-width="1.4" />
<text x="176.10" y="528.85" font-size="11.2" text-anchor="end" fill="#000" >20</text>
<line x1="177.10" y1="506.70" x2="180.60" y2="506.70" stroke="#1a1a1a" stroke-width="1.4" />
<text x="176.10" y="510.70" font-size="11.2" text-anchor="end" fill="#000" >40</text>
<line x1="177.10" y1="488.55" x2="180.60" y2="488.55" stroke="#1a1a1a" stroke-width="1.4" />
<text x="176.10" y="492.55" font-size="11.2" text-anchor="end" fill="#000" >60</text>
<line x1="177.10" y1="470.40" x2="180.60" y2="470.40" stroke="#1a1a1a" stroke-width="1.4" />
<text x="176.10" y="474.40" font-size="11.2" text-anchor="end" fill="#000" >80</text>
<line x1="177.10" y1="452.25" x2="180.60" y2="452.25" stroke="#1a1a1a" stroke-width="1.4" />
<text x="176.10" y="456.25" font-size="11.2" text-anchor="end" fill="#000" >100</text>
<line x1="177.10" y1="434.10" x2="180.60" y2="434.10" stroke="#1a1a1a" stroke-width="1.4" />
<text x="176.10" y="438.10" font-size="11.2" text-anchor="end" fill="#000" >120</text>
<line x1="180.60" y1="543.00" x2="300.90" y2="543.00" stroke="#1a1a1a" stroke-width="1.5" />
<line x1="210.30" y1="543.00" x2="210.30" y2="546.50" stroke="#1a1a1a" stroke-width="1.4" />
<line x1="240.00" y1="543.00" x2="240.00" y2="546.50" stroke="#1a1a1a" stroke-width="1.4" />
<line x1="269.70" y1="543.00" x2="269.70" y2="546.50" stroke="#1a1a1a" stroke-width="1.4" />
<line x1="299.40" y1="543.00" x2="299.40" y2="546.50" stroke="#1a1a1a" stroke-width="1.4" />
<text x="0" y="0" font-size="11.5" text-anchor="middle" fill="#000" transform="translate(150.00,486.50) rotate(-90)">Cell viability (%)</text>
<polyline points="180.60,455.15 210.30,456.06 225.14,464.59 240.00,470.90 254.84,475.39 269.70,479.29 284.54,489.09 299.40,494.09" fill="none" stroke="#ff0000" stroke-width="1.35"/>
<line x1="180.60" y1="451.65" x2="180.60" y2="458.65" stroke="#ff0000" stroke-width="1.8" />
<line x1="178.50" y1="451.65" x2="182.70" y2="451.65" stroke="#ff0000" stroke-width="1.6" />
<line x1="178.50" y1="458.65" x2="182.70" y2="458.65" stroke="#ff0000" stroke-width="1.6" />
<polygon points="178.10,457.40 183.10,457.40 180.60,452.90" fill="#ff0000"/>
<line x1="210.30" y1="452.06" x2="210.30" y2="460.06" stroke="#ff0000" stroke-width="1.8" />
<line x1="208.20" y1="452.06" x2="212.40" y2="452.06" stroke="#ff0000" stroke-width="1.6" />
<line x1="208.20" y1="460.06" x2="212.40" y2="460.06" stroke="#ff0000" stroke-width="1.6" />
<polygon points="207.80,458.31 212.80,458.31 210.30,453.81" fill="#ff0000"/>
<line x1="225.14" y1="457.59" x2="225.14" y2="471.59" stroke="#ff0000" stroke-width="1.8" />
<line x1="223.04" y1="457.59" x2="227.24" y2="457.59" stroke="#ff0000" stroke-width="1.6" />
<line x1="223.04" y1="471.59" x2="227.24" y2="471.59" stroke="#ff0000" stroke-width="1.6" />
<polygon points="222.64,466.84 227.64,466.84 225.14,462.34" fill="#ff0000"/>
<line x1="240.00" y1="464.40" x2="240.00" y2="477.40" stroke="#ff0000" stroke-width="1.8" />
<line x1="237.90" y1="464.40" x2="242.10" y2="464.40" stroke="#ff0000" stroke-width="1.6" />
<line x1="237.90" y1="477.40" x2="242.10" y2="477.40" stroke="#ff0000" stroke-width="1.6" />
<polygon points="237.50,473.15 242.50,473.15 240.00,468.65" fill="#ff0000"/>
<line x1="254.84" y1="470.59" x2="254.84" y2="480.19" stroke="#ff0000" stroke-width="1.8" />
<line x1="252.74" y1="470.59" x2="256.94" y2="470.59" stroke="#ff0000" stroke-width="1.6" />
<line x1="252.74" y1="480.19" x2="256.94" y2="480.19" stroke="#ff0000" stroke-width="1.6" />
<polygon points="252.34,477.64 257.34,477.64 254.84,473.14" fill="#ff0000"/>
<line x1="269.70" y1="473.29" x2="269.70" y2="485.29" stroke="#ff0000" stroke-width="1.8" />
<line x1="267.60" y1="473.29" x2="271.80" y2="473.29" stroke="#ff0000" stroke-width="1.6" />
<line x1="267.60" y1="485.29" x2="271.80" y2="485.29" stroke="#ff0000" stroke-width="1.6" />
<polygon points="267.20,481.54 272.20,481.54 269.70,477.04" fill="#ff0000"/>
<line x1="284.54" y1="483.09" x2="284.54" y2="495.09" stroke="#ff0000" stroke-width="1.8" />
<line x1="282.44" y1="483.09" x2="286.64" y2="483.09" stroke="#ff0000" stroke-width="1.6" />
<line x1="282.44" y1="495.09" x2="286.64" y2="495.09" stroke="#ff0000" stroke-width="1.6" />
<polygon points="282.04,491.34 287.04,491.34 284.54,486.84" fill="#ff0000"/>
<line x1="299.40" y1="488.29" x2="299.40" y2="499.89" stroke="#ff0000" stroke-width="1.8" />
<line x1="297.30" y1="488.29" x2="301.50" y2="488.29" stroke="#ff0000" stroke-width="1.6" />
<line x1="297.30" y1="499.89" x2="301.50" y2="499.89" stroke="#ff0000" stroke-width="1.6" />
<polygon points="296.90,496.34 301.90,496.34 299.40,491.84" fill="#ff0000"/>
<polyline points="180.60,455.15 210.30,476.39 225.14,495.99 240.00,505.52 254.84,510.78 269.70,519.31 284.54,527.21 299.40,531.02" fill="none" stroke="#0000ff" stroke-width="1.35"/>
<line x1="180.60" y1="451.65" x2="180.60" y2="458.65" stroke="#0000ff" stroke-width="1.8" />
<line x1="178.50" y1="451.65" x2="182.70" y2="451.65" stroke="#0000ff" stroke-width="1.6" />
<line x1="178.50" y1="458.65" x2="182.70" y2="458.65" stroke="#0000ff" stroke-width="1.6" />
<polygon points="180.60,453.25 182.50,455.15 180.60,457.05 178.70,455.15" fill="#0000ff"/>
<line x1="210.30" y1="468.99" x2="210.30" y2="483.79" stroke="#0000ff" stroke-width="1.8" />
<line x1="208.20" y1="468.99" x2="212.40" y2="468.99" stroke="#0000ff" stroke-width="1.6" />
<line x1="208.20" y1="483.79" x2="212.40" y2="483.79" stroke="#0000ff" stroke-width="1.6" />
<polygon points="210.30,474.49 212.20,476.39 210.30,478.29 208.40,476.39" fill="#0000ff"/>
<line x1="225.14" y1="488.19" x2="225.14" y2="503.79" stroke="#0000ff" stroke-width="1.8" />
<line x1="223.04" y1="488.19" x2="227.24" y2="488.19" stroke="#0000ff" stroke-width="1.6" />
<line x1="223.04" y1="503.79" x2="227.24" y2="503.79" stroke="#0000ff" stroke-width="1.6" />
<polygon points="225.14,494.09 227.04,495.99 225.14,497.89 223.24,495.99" fill="#0000ff"/>
<line x1="240.00" y1="498.72" x2="240.00" y2="512.32" stroke="#0000ff" stroke-width="1.8" />
<line x1="237.90" y1="498.72" x2="242.10" y2="498.72" stroke="#0000ff" stroke-width="1.6" />
<line x1="237.90" y1="512.32" x2="242.10" y2="512.32" stroke="#0000ff" stroke-width="1.6" />
<polygon points="240.00,503.62 241.90,505.52 240.00,507.42 238.10,505.52" fill="#0000ff"/>
<line x1="254.84" y1="505.18" x2="254.84" y2="516.38" stroke="#0000ff" stroke-width="1.8" />
<line x1="252.74" y1="505.18" x2="256.94" y2="505.18" stroke="#0000ff" stroke-width="1.6" />
<line x1="252.74" y1="516.38" x2="256.94" y2="516.38" stroke="#0000ff" stroke-width="1.6" />
<polygon points="254.84,508.88 256.74,510.78 254.84,512.68 252.94,510.78" fill="#0000ff"/>
<line x1="269.70" y1="512.01" x2="269.70" y2="526.61" stroke="#0000ff" stroke-width="1.8" />
<line x1="267.60" y1="512.01" x2="271.80" y2="512.01" stroke="#0000ff" stroke-width="1.6" />
<line x1="267.60" y1="526.61" x2="271.80" y2="526.61" stroke="#0000ff" stroke-width="1.6" />
<polygon points="269.70,517.41 271.60,519.31 269.70,521.21 267.80,519.31" fill="#0000ff"/>
<line x1="284.54" y1="522.01" x2="284.54" y2="532.41" stroke="#0000ff" stroke-width="1.8" />
<line x1="282.44" y1="522.01" x2="286.64" y2="522.01" stroke="#0000ff" stroke-width="1.6" />
<line x1="282.44" y1="532.41" x2="286.64" y2="532.41" stroke="#0000ff" stroke-width="1.6" />
<polygon points="284.54,525.31 286.44,527.21 284.54,529.11 282.64,527.21" fill="#0000ff"/>
<line x1="299.40" y1="525.82" x2="299.40" y2="536.22" stroke="#0000ff" stroke-width="1.8" />
<line x1="297.30" y1="525.82" x2="301.50" y2="525.82" stroke="#0000ff" stroke-width="1.6" />
<line x1="297.30" y1="536.22" x2="301.50" y2="536.22" stroke="#0000ff" stroke-width="1.6" />
<polygon points="299.40,529.12 301.30,531.02 299.40,532.92 297.50,531.02" fill="#0000ff"/>
<polyline points="180.60,455.15 210.30,466.23 225.14,475.48 240.00,483.06 254.84,491.27 269.70,499.08 284.54,503.61 299.40,512.87" fill="none" stroke="#00bb00" stroke-width="1.35"/>
<line x1="180.60" y1="451.65" x2="180.60" y2="458.65" stroke="#00bb00" stroke-width="1.8" />
<line x1="178.50" y1="451.65" x2="182.70" y2="451.65" stroke="#00bb00" stroke-width="1.6" />
<line x1="178.50" y1="458.65" x2="182.70" y2="458.65" stroke="#00bb00" stroke-width="1.6" />
<rect x="178.20" y="452.75" width="4.8" height="4.8" fill="#00bb00"/>
<line x1="210.30" y1="461.53" x2="210.30" y2="470.93" stroke="#00bb00" stroke-width="1.8" />
<line x1="208.20" y1="461.53" x2="212.40" y2="461.53" stroke="#00bb00" stroke-width="1.6" />
<line x1="208.20" y1="470.93" x2="212.40" y2="470.93" stroke="#00bb00" stroke-width="1.6" />
<rect x="207.90" y="463.83" width="4.8" height="4.8" fill="#00bb00"/>
<line x1="225.14" y1="470.78" x2="225.14" y2="480.18" stroke="#00bb00" stroke-width="1.8" />
<line x1="223.04" y1="470.78" x2="227.24" y2="470.78" stroke="#00bb00" stroke-width="1.6" />
<line x1="223.04" y1="480.18" x2="227.24" y2="480.18" stroke="#00bb00" stroke-width="1.6" />
<rect x="222.74" y="473.08" width="4.8" height="4.8" fill="#00bb00"/>
<line x1="240.00" y1="477.56" x2="240.00" y2="488.56" stroke="#00bb00" stroke-width="1.8" />
<line x1="237.90" y1="477.56" x2="242.10" y2="477.56" stroke="#00bb00" stroke-width="1.6" />
<line x1="237.90" y1="488.56" x2="242.10" y2="488.56" stroke="#00bb00" stroke-width="1.6" />
<rect x="237.60" y="480.66" width="4.8" height="4.8" fill="#00bb00"/>
<line x1="254.84" y1="484.07" x2="254.84" y2="498.47" stroke="#00bb00" stroke-width="1.8" />
<line x1="252.74" y1="484.07" x2="256.94" y2="484.07" stroke="#00bb00" stroke-width="1.6" />
<line x1="252.74" y1="498.47" x2="256.94" y2="498.47" stroke="#00bb00" stroke-width="1.6" />
<rect x="252.44" y="488.87" width="4.8" height="4.8" fill="#00bb00"/>
<line x1="269.70" y1="493.88" x2="269.70" y2="504.28" stroke="#00bb00" stroke-width="1.8" />
<line x1="267.60" y1="493.88" x2="271.80" y2="493.88" stroke="#00bb00" stroke-width="1.6" />
<line x1="267.60" y1="504.28" x2="271.80" y2="504.28" stroke="#00bb00" stroke-width="1.6" />
<rect x="267.30" y="496.68" width="4.8" height="4.8" fill="#00bb00"/>
<line x1="284.54" y1="498.11" x2="284.54" y2="509.11" stroke="#00bb00" stroke-width="1.8" />
<line x1="282.44" y1="498.11" x2="286.64" y2="498.11" stroke="#00bb00" stroke-width="1.6" />
<line x1="282.44" y1="509.11" x2="286.64" y2="509.11" stroke="#00bb00" stroke-width="1.6" />
<rect x="282.14" y="501.21" width="4.8" height="4.8" fill="#00bb00"/>
<line x1="299.40" y1="507.47" x2="299.40" y2="518.27" stroke="#00bb00" stroke-width="1.8" />
<line x1="297.30" y1="507.47" x2="301.50" y2="507.47" stroke="#00bb00" stroke-width="1.6" />
<line x1="297.30" y1="518.27" x2="301.50" y2="518.27" stroke="#00bb00" stroke-width="1.6" />
<rect x="297.00" y="510.47" width="4.8" height="4.8" fill="#00bb00"/>
<line x1="309.60" y1="512.80" x2="309.60" y2="532.50" stroke="#777" stroke-width="1.1" />
<text x="311.90" y="529.65" font-size="11.5" text-anchor="start" fill="#222" >**</text>
<text x="170.70" y="562.70" font-size="12.5" text-anchor="middle" fill="#000" >0.001</text>
<text x="169.90" y="579.80" font-size="12.5" text-anchor="middle" fill="#222" >0.01</text>
<text x="202.30" y="562.70" font-size="12.5" text-anchor="middle" fill="#000" >0.01</text>
<text x="204.00" y="579.80" font-size="12.5" text-anchor="middle" fill="#222" >0.1</text>
<text x="234.70" y="562.70" font-size="12.5" text-anchor="middle" fill="#000" >0.1</text>
<text x="236.50" y="579.80" font-size="12.5" text-anchor="middle" fill="#222" >1</text>
<text x="268.00" y="562.70" font-size="12.5" text-anchor="middle" fill="#000" >1</text>
<text x="267.20" y="579.80" font-size="12.5" text-anchor="middle" fill="#222" >10</text>
<text x="299.70" y="562.70" font-size="12.5" text-anchor="middle" fill="#000" >10</text>
<text x="301.00" y="579.80" font-size="12.5" text-anchor="middle" fill="#222" >100</text>
<text x="69.63" y="562.50" font-size="13.46" fill="#000">erlotinib</text>
<text x="122.19" y="562.50" font-size="13.00" fill="#555">(</text>
<text x="126.31" y="562.50" font-size="13.00" fill="#000" textLength="20.81" lengthAdjust="spacingAndGlyphs">μM</text>
<text x="146.92" y="562.50" font-size="13.00" fill="#555">)</text>
<text x="27.39" y="579.20" font-size="13.43" fill="#222">JBSNF-000088</text>
<text x="122.49" y="579.20" font-size="13.00" fill="#555">(</text>
<text x="125.56" y="579.20" font-size="13.00" fill="#222" textLength="21.70" lengthAdjust="spacingAndGlyphs">μM</text>
<text x="147.92" y="579.20" font-size="13.00" fill="#555">)</text>
<text x="566.20" y="422.80" font-size="13" text-anchor="middle" fill="#000" >HCC827/GR</text>
<line x1="503.00" y1="433.60" x2="503.00" y2="546.50" stroke="#1a1a1a" stroke-width="1.5" />
<line x1="499.50" y1="543.00" x2="503.00" y2="543.00" stroke="#1a1a1a" stroke-width="1.4" />
<text x="498.50" y="547.00" font-size="11.2" text-anchor="end" fill="#000" >0</text>
<line x1="499.50" y1="524.85" x2="503.00" y2="524.85" stroke="#1a1a1a" stroke-width="1.4" />
<text x="498.50" y="528.85" font-size="11.2" text-anchor="end" fill="#000" >20</text>
<line x1="499.50" y1="506.70" x2="503.00" y2="506.70" stroke="#1a1a1a" stroke-width="1.4" />
<text x="498.50" y="510.70" font-size="11.2" text-anchor="end" fill="#000" >40</text>
<line x1="499.50" y1="488.55" x2="503.00" y2="488.55" stroke="#1a1a1a" stroke-width="1.4" />
<text x="498.50" y="492.55" font-size="11.2" text-anchor="end" fill="#000" >60</text>
<line x1="499.50" y1="470.40" x2="503.00" y2="470.40" stroke="#1a1a1a" stroke-width="1.4" />
<text x="498.50" y="474.40" font-size="11.2" text-anchor="end" fill="#000" >80</text>
<line x1="499.50" y1="452.25" x2="503.00" y2="452.25" stroke="#1a1a1a" stroke-width="1.4" />
<text x="498.50" y="456.25" font-size="11.2" text-anchor="end" fill="#000" >100</text>
<line x1="499.50" y1="434.10" x2="503.00" y2="434.10" stroke="#1a1a1a" stroke-width="1.4" />
<text x="498.50" y="438.10" font-size="11.2" text-anchor="end" fill="#000" >120</text>
<line x1="503.00" y1="543.00" x2="623.10" y2="543.00" stroke="#1a1a1a" stroke-width="1.5" />
<line x1="532.65" y1="543.00" x2="532.65" y2="546.50" stroke="#1a1a1a" stroke-width="1.4" />
<line x1="562.30" y1="543.00" x2="562.30" y2="546.50" stroke="#1a1a1a" stroke-width="1.4" />
<line x1="591.95" y1="543.00" x2="591.95" y2="546.50" stroke="#1a1a1a" stroke-width="1.4" />
<line x1="621.60" y1="543.00" x2="621.60" y2="546.50" stroke="#1a1a1a" stroke-width="1.4" />
<text x="0" y="0" font-size="11.5" text-anchor="middle" fill="#000" transform="translate(471.80,486.50) rotate(-90)">Cell viability (%)</text>
<polyline points="503.00,455.79 532.65,457.06 547.47,459.51 562.30,467.41 577.12,476.21 591.95,482.92 606.77,493.45 621.60,504.16" fill="none" stroke="#ff0000" stroke-width="1.35"/>
<line x1="503.00" y1="452.29" x2="503.00" y2="459.29" stroke="#ff0000" stroke-width="1.8" />
<line x1="500.90" y1="452.29" x2="505.10" y2="452.29" stroke="#ff0000" stroke-width="1.6" />
<line x1="500.90" y1="459.29" x2="505.10" y2="459.29" stroke="#ff0000" stroke-width="1.6" />
<polygon points="500.50,458.04 505.50,458.04 503.00,453.54" fill="#ff0000"/>
<line x1="532.65" y1="453.86" x2="532.65" y2="460.26" stroke="#ff0000" stroke-width="1.8" />
<line x1="530.55" y1="453.86" x2="534.75" y2="453.86" stroke="#ff0000" stroke-width="1.6" />
<line x1="530.55" y1="460.26" x2="534.75" y2="460.26" stroke="#ff0000" stroke-width="1.6" />
<polygon points="530.15,459.31 535.15,459.31 532.65,454.81" fill="#ff0000"/>
<line x1="547.47" y1="455.81" x2="547.47" y2="463.21" stroke="#ff0000" stroke-width="1.8" />
<line x1="545.37" y1="455.81" x2="549.57" y2="455.81" stroke="#ff0000" stroke-width="1.6" />
<line x1="545.37" y1="463.21" x2="549.57" y2="463.21" stroke="#ff0000" stroke-width="1.6" />
<polygon points="544.97,461.76 549.97,461.76 547.47,457.26" fill="#ff0000"/>
<line x1="562.30" y1="463.21" x2="562.30" y2="471.61" stroke="#ff0000" stroke-width="1.8" />
<line x1="560.20" y1="463.21" x2="564.40" y2="463.21" stroke="#ff0000" stroke-width="1.6" />
<line x1="560.20" y1="471.61" x2="564.40" y2="471.61" stroke="#ff0000" stroke-width="1.6" />
<polygon points="559.80,469.66 564.80,469.66 562.30,465.16" fill="#ff0000"/>
<line x1="577.12" y1="470.31" x2="577.12" y2="482.11" stroke="#ff0000" stroke-width="1.8" />
<line x1="575.02" y1="470.31" x2="579.22" y2="470.31" stroke="#ff0000" stroke-width="1.6" />
<line x1="575.02" y1="482.11" x2="579.22" y2="482.11" stroke="#ff0000" stroke-width="1.6" />
<polygon points="574.62,478.46 579.62,478.46 577.12,473.96" fill="#ff0000"/>
<line x1="591.95" y1="479.42" x2="591.95" y2="486.42" stroke="#ff0000" stroke-width="1.8" />
<line x1="589.85" y1="479.42" x2="594.05" y2="479.42" stroke="#ff0000" stroke-width="1.6" />
<line x1="589.85" y1="486.42" x2="594.05" y2="486.42" stroke="#ff0000" stroke-width="1.6" />
<polygon points="589.45,485.17 594.45,485.17 591.95,480.67" fill="#ff0000"/>
<line x1="606.77" y1="488.25" x2="606.77" y2="498.65" stroke="#ff0000" stroke-width="1.8" />
<line x1="604.67" y1="488.25" x2="608.87" y2="488.25" stroke="#ff0000" stroke-width="1.6" />
<line x1="604.67" y1="498.65" x2="608.87" y2="498.65" stroke="#ff0000" stroke-width="1.6" />
<polygon points="604.27,495.70 609.27,495.70 606.77,491.20" fill="#ff0000"/>
<line x1="621.60" y1="500.06" x2="621.60" y2="508.26" stroke="#ff0000" stroke-width="1.8" />
<line x1="619.50" y1="500.06" x2="623.70" y2="500.06" stroke="#ff0000" stroke-width="1.6" />
<line x1="619.50" y1="508.26" x2="623.70" y2="508.26" stroke="#ff0000" stroke-width="1.6" />
<polygon points="619.10,506.41 624.10,506.41 621.60,501.91" fill="#ff0000"/>
<polyline points="503.00,456.70 532.65,479.57 547.47,497.35 562.30,504.79 577.12,511.51 591.95,519.68 606.77,525.21 621.60,531.02" fill="none" stroke="#0000ff" stroke-width="1.35"/>
<line x1="503.00" y1="453.20" x2="503.00" y2="460.20" stroke="#0000ff" stroke-width="1.8" />
<line x1="500.90" y1="453.20" x2="505.10" y2="453.20" stroke="#0000ff" stroke-width="1.6" />
<line x1="500.90" y1="460.20" x2="505.10" y2="460.20" stroke="#0000ff" stroke-width="1.6" />
<polygon points="503.00,454.80 504.90,456.70 503.00,458.60 501.10,456.70" fill="#0000ff"/>
<line x1="532.65" y1="474.37" x2="532.65" y2="484.77" stroke="#0000ff" stroke-width="1.8" />
<line x1="530.55" y1="474.37" x2="534.75" y2="474.37" stroke="#0000ff" stroke-width="1.6" />
<line x1="530.55" y1="484.77" x2="534.75" y2="484.77" stroke="#0000ff" stroke-width="1.6" />
<polygon points="532.65,477.67 534.55,479.57 532.65,481.47 530.75,479.57" fill="#0000ff"/>
<line x1="547.47" y1="492.15" x2="547.47" y2="502.55" stroke="#0000ff" stroke-width="1.8" />
<line x1="545.37" y1="492.15" x2="549.57" y2="492.15" stroke="#0000ff" stroke-width="1.6" />
<line x1="545.37" y1="502.55" x2="549.57" y2="502.55" stroke="#0000ff" stroke-width="1.6" />
<polygon points="547.47,495.45 549.37,497.35 547.47,499.25 545.57,497.35" fill="#0000ff"/>
<line x1="562.30" y1="500.49" x2="562.30" y2="509.09" stroke="#0000ff" stroke-width="1.8" />
<line x1="560.20" y1="500.49" x2="564.40" y2="500.49" stroke="#0000ff" stroke-width="1.6" />
<line x1="560.20" y1="509.09" x2="564.40" y2="509.09" stroke="#0000ff" stroke-width="1.6" />
<polygon points="562.30,502.89 564.20,504.79 562.30,506.69 560.40,504.79" fill="#0000ff"/>
<line x1="577.12" y1="507.21" x2="577.12" y2="515.81" stroke="#0000ff" stroke-width="1.8" />
<line x1="575.02" y1="507.21" x2="579.22" y2="507.21" stroke="#0000ff" stroke-width="1.6" />
<line x1="575.02" y1="515.81" x2="579.22" y2="515.81" stroke="#0000ff" stroke-width="1.6" />
<polygon points="577.12,509.61 579.02,511.51 577.12,513.41 575.22,511.51" fill="#0000ff"/>
<line x1="591.95" y1="516.18" x2="591.95" y2="523.18" stroke="#0000ff" stroke-width="1.8" />
<line x1="589.85" y1="516.18" x2="594.05" y2="516.18" stroke="#0000ff" stroke-width="1.6" />
<line x1="589.85" y1="523.18" x2="594.05" y2="523.18" stroke="#0000ff" stroke-width="1.6" />
<polygon points="591.95,517.78 593.85,519.68 591.95,521.58 590.05,519.68" fill="#0000ff"/>
<line x1="606.77" y1="520.91" x2="606.77" y2="529.51" stroke="#0000ff" stroke-width="1.8" />
<line x1="604.67" y1="520.91" x2="608.87" y2="520.91" stroke="#0000ff" stroke-width="1.6" />
<line x1="604.67" y1="529.51" x2="608.87" y2="529.51" stroke="#0000ff" stroke-width="1.6" />
<polygon points="606.77,523.31 608.67,525.21 606.77,527.11 604.87,525.21" fill="#0000ff"/>
<line x1="621.60" y1="526.72" x2="621.60" y2="535.32" stroke="#0000ff" stroke-width="1.8" />
<line x1="619.50" y1="526.72" x2="623.70" y2="526.72" stroke="#0000ff" stroke-width="1.6" />
<line x1="619.50" y1="535.32" x2="623.70" y2="535.32" stroke="#0000ff" stroke-width="1.6" />
<polygon points="621.60,529.12 623.50,531.02 621.60,532.92 619.70,531.02" fill="#0000ff"/>
<polyline points="503.00,455.79 532.65,465.41 547.47,471.58 562.30,482.11 577.12,491.91 591.95,497.17 606.77,504.16 621.60,514.41" fill="none" stroke="#00bb00" stroke-width="1.35"/>
<line x1="503.00" y1="452.29" x2="503.00" y2="459.29" stroke="#00bb00" stroke-width="1.8" />
<line x1="500.90" y1="452.29" x2="505.10" y2="452.29" stroke="#00bb00" stroke-width="1.6" />
<line x1="500.90" y1="459.29" x2="505.10" y2="459.29" stroke="#00bb00" stroke-width="1.6" />
<rect x="500.60" y="453.39" width="4.8" height="4.8" fill="#00bb00"/>
<line x1="532.65" y1="462.21" x2="532.65" y2="468.61" stroke="#00bb00" stroke-width="1.8" />
<line x1="530.55" y1="462.21" x2="534.75" y2="462.21" stroke="#00bb00" stroke-width="1.6" />
<line x1="530.55" y1="468.61" x2="534.75" y2="468.61" stroke="#00bb00" stroke-width="1.6" />
<rect x="530.25" y="463.01" width="4.8" height="4.8" fill="#00bb00"/>
<line x1="547.47" y1="468.38" x2="547.47" y2="474.78" stroke="#00bb00" stroke-width="1.8" />
<line x1="545.37" y1="468.38" x2="549.57" y2="468.38" stroke="#00bb00" stroke-width="1.6" />
<line x1="545.37" y1="474.78" x2="549.57" y2="474.78" stroke="#00bb00" stroke-width="1.6" />
<rect x="545.07" y="469.18" width="4.8" height="4.8" fill="#00bb00"/>
<line x1="562.30" y1="475.31" x2="562.30" y2="488.91" stroke="#00bb00" stroke-width="1.8" />
<line x1="560.20" y1="475.31" x2="564.40" y2="475.31" stroke="#00bb00" stroke-width="1.6" />
<line x1="560.20" y1="488.91" x2="564.40" y2="488.91" stroke="#00bb00" stroke-width="1.6" />
<rect x="559.90" y="479.71" width="4.8" height="4.8" fill="#00bb00"/>
<line x1="577.12" y1="486.31" x2="577.12" y2="497.51" stroke="#00bb00" stroke-width="1.8" />
<line x1="575.02" y1="486.31" x2="579.22" y2="486.31" stroke="#00bb00" stroke-width="1.6" />
<line x1="575.02" y1="497.51" x2="579.22" y2="497.51" stroke="#00bb00" stroke-width="1.6" />
<rect x="574.72" y="489.51" width="4.8" height="4.8" fill="#00bb00"/>
<line x1="591.95" y1="491.77" x2="591.95" y2="502.57" stroke="#00bb00" stroke-width="1.8" />
<line x1="589.85" y1="491.77" x2="594.05" y2="491.77" stroke="#00bb00" stroke-width="1.6" />
<line x1="589.85" y1="502.57" x2="594.05" y2="502.57" stroke="#00bb00" stroke-width="1.6" />
<rect x="589.55" y="494.77" width="4.8" height="4.8" fill="#00bb00"/>
<line x1="606.77" y1="498.06" x2="606.77" y2="510.26" stroke="#00bb00" stroke-width="1.8" />
<line x1="604.67" y1="498.06" x2="608.87" y2="498.06" stroke="#00bb00" stroke-width="1.6" />
<line x1="604.67" y1="510.26" x2="608.87" y2="510.26" stroke="#00bb00" stroke-width="1.6" />
<rect x="604.37" y="501.76" width="4.8" height="4.8" fill="#00bb00"/>
<line x1="621.60" y1="510.11" x2="621.60" y2="518.71" stroke="#00bb00" stroke-width="1.8" />
<line x1="619.50" y1="510.11" x2="623.70" y2="510.11" stroke="#00bb00" stroke-width="1.6" />
<line x1="619.50" y1="518.71" x2="623.70" y2="518.71" stroke="#00bb00" stroke-width="1.6" />
<rect x="619.20" y="512.01" width="4.8" height="4.8" fill="#00bb00"/>
<line x1="632.50" y1="514.00" x2="632.50" y2="533.90" stroke="#777" stroke-width="1.1" />
<text x="634.80" y="530.95" font-size="11.5" text-anchor="start" fill="#222" >**</text>
<text x="494.30" y="562.70" font-size="12.5" text-anchor="middle" fill="#000" >0.001</text>
<text x="494.60" y="579.80" font-size="12.5" text-anchor="middle" fill="#222" >0.01</text>
<text x="526.40" y="562.70" font-size="12.5" text-anchor="middle" fill="#000" >0.01</text>
<text x="528.00" y="579.80" font-size="12.5" text-anchor="middle" fill="#222" >0.1</text>
<text x="558.70" y="562.70" font-size="12.5" text-anchor="middle" fill="#000" >0.1</text>
<text x="560.60" y="579.80" font-size="12.5" text-anchor="middle" fill="#222" >1</text>
<text x="591.60" y="562.70" font-size="12.5" text-anchor="middle" fill="#000" >1</text>
<text x="591.20" y="579.80" font-size="12.5" text-anchor="middle" fill="#222" >10</text>
<text x="624.60" y="562.70" font-size="12.5" text-anchor="middle" fill="#000" >10</text>
<text x="625.10" y="579.80" font-size="12.5" text-anchor="middle" fill="#222" >100</text>
<text x="394.53" y="562.50" font-size="13.46" fill="#000">erlotinib</text>
<text x="446.39" y="562.50" font-size="13.00" fill="#555">(</text>
<text x="450.71" y="562.50" font-size="13.00" fill="#000" textLength="20.69" lengthAdjust="spacingAndGlyphs">μM</text>
<text x="471.32" y="562.50" font-size="13.00" fill="#555">)</text>
<text x="350.89" y="579.20" font-size="13.43" fill="#222">JBSNF-000088</text>
<text x="446.39" y="579.20" font-size="13.00" fill="#555">(</text>
<text x="449.26" y="579.20" font-size="13.00" fill="#222" textLength="21.70" lengthAdjust="spacingAndGlyphs">μM</text>
<text x="471.72" y="579.20" font-size="13.00" fill="#555">)</text>
</svg></body></html>
